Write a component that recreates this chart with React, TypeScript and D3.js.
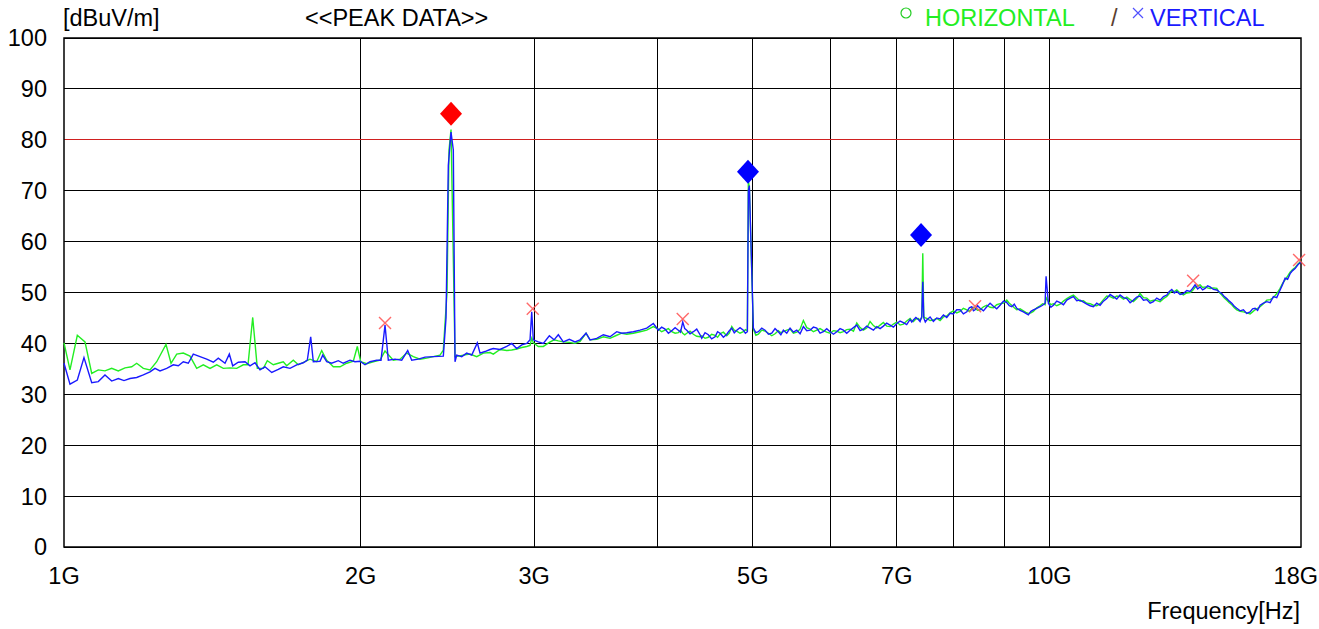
import React, { useEffect, useRef } from 'react';
import * as d3 from 'd3';

// frequency [GHz], level [dBuV/m]
const horizontal: [number, number][] = [
  [1.0, 40.1], [1.0141, 34.8], [1.0316, 41.6], [1.0503, 40.3], [1.0669, 34.1], [1.0834, 34.8], [1.1005, 34.6],
  [1.1179, 35.1], [1.1353, 34.6], [1.1532, 35.2], [1.1714, 35.4], [1.1851, 36.1], [1.2036, 35.1], [1.2226, 34.8],
  [1.2419, 36.4], [1.2691, 39.8], [1.2841, 36.1], [1.3013, 37.9], [1.3215, 38.1], [1.3423, 37.5], [1.3635, 35.1],
  [1.3847, 35.8], [1.4066, 35.1], [1.4288, 35.8], [1.451, 35.1], [1.4739, 35.2], [1.4971, 35.1], [1.5204, 35.8],
  [1.5372, 35.8], [1.5542, 45.1], [1.571, 35.1], [1.5932, 35.1], [1.6081, 36.6], [1.6308, 35.8], [1.6499, 36.1],
  [1.6693, 36.4], [1.6826, 35.6], [1.7088, 36.7], [1.7289, 35.8], [1.7562, 36.4], [1.7768, 36.9], [1.8048, 36.4],
  [1.826, 38.6], [1.8475, 36.7], [1.8762, 35.4], [1.9058, 35.4], [1.9359, 36.1], [1.966, 36.5], [1.9845, 39.4],
  [2.0003, 36.4], [2.0286, 36.0], [2.0601, 36.4], [2.0926, 36.7], [2.1172, 38.5], [2.1586, 36.7], [2.1927, 36.9],
  [2.2273, 38.1], [2.2619, 37.4], [2.2976, 36.9], [2.3339, 37.1], [2.3701, 37.4], [2.4075, 37.7], [2.4262, 38.7],
  [2.4472, 50.0], [2.4587, 78.0], [2.4702, 82.0], [2.4818, 60.0], [2.4934, 37.4], [2.5422, 37.7], [2.5824, 37.9],
  [2.6231, 37.4], [2.6639, 38.1], [2.7059, 38.2], [2.7269, 37.9], [2.7699, 38.8], [2.8136, 38.6], [2.8467, 38.7],
  [2.8801, 38.9], [2.914, 39.2], [2.9482, 39.4], [2.9711, 39.6], [2.9829, 41.0], [2.9941, 40.1], [3.0293, 39.4],
  [3.0649, 39.4], [3.1082, 40.2], [3.1425, 40.7], [3.1742, 40.5], [3.2115, 40.3], [3.2568, 40.2], [3.3005, 40.0],
  [3.3393, 40.4], [3.3865, 42.0], [3.4183, 40.7], [3.4722, 40.8], [3.5262, 41.3], [3.5818, 41.0], [3.6383, 41.6],
  [3.6811, 42.0], [3.7243, 41.8], [3.7822, 42.0], [3.8419, 42.3], [3.9025, 42.6], [3.9632, 43.3],
  [4.0098, 42.8], [4.041, 42.3], [4.0731, 42.6], [4.105, 42.9], [4.1374, 42.3], [4.17, 42.0], [4.2017, 42.1],
  [4.223, 42.6], [4.2451, 42.0], [4.265, 41.7], [4.285, 42.0], [4.318, 42.4], [4.3516, 41.8], [4.386, 41.4],
  [4.4203, 41.3], [4.4379, 41.5], [4.472, 41.0], [4.5069, 41.2], [4.542, 41.8], [4.578, 41.6], [4.605, 41.2],
  [4.6318, 41.9], [4.668, 42.2], [4.7049, 41.5], [4.733, 42.0], [4.7602, 43.3], [4.788, 42.6], [4.8161, 42.4],
  [4.853, 42.0], [4.891, 42.3], [4.914, 42.7], [4.937, 42.5], [4.9485, 72.0], [4.9601, 70.5], [5.0067, 42.8],
  [5.036, 41.6], [5.0656, 41.8], [5.106, 42.6], [5.1455, 42.4], [5.186, 42.0], [5.2267, 41.5], [5.267, 41.9],
  [5.3079, 42.5], [5.339, 42.1], [5.3703, 42.3], [5.413, 42.6], [5.455, 42.8], [5.498, 42.0], [5.5411, 42.2],
  [5.584, 42.8], [5.6272, 44.5], [5.672, 43.1], [5.716, 42.8], [5.761, 42.3], [5.8062, 42.6], [5.851, 42.9],
  [5.8964, 42.5], [5.943, 42.2], [5.9895, 42.0], [6.037, 42.5], [6.084, 42.4], [6.131, 42.1], [6.1785, 42.3],
  [6.227, 42.7], [6.276, 42.8], [6.326, 42.4], [6.375, 44.0], [6.425, 43.1], [6.4741, 42.6], [6.525, 43.0],
  [6.5763, 44.3], [6.628, 43.5], [6.68, 43.0], [6.732, 43.6], [6.7838, 44.1], [6.837, 43.4], [6.8909, 43.3],
  [6.945, 43.8], [6.9996, 44.2], [7.054, 43.6], [7.1084, 43.8], [7.164, 44.4], [7.2206, 44.9], [7.249, 44.5],
  [7.2765, 44.3], [7.319, 44.8], [7.362, 44.9], [7.391, 44.6], [7.4207, 45.0], [7.4381, 57.7], [7.4555, 45.2],
  [7.482, 45.0], [7.5079, 44.9], [7.566, 44.5], [7.6245, 44.6], [7.685, 44.9], [7.7448, 44.5], [7.806, 45.2],
  [7.867, 45.4], [7.928, 46.0], [7.9893, 46.4], [8.052, 46.0], [8.1154, 46.3], [8.179, 46.9], [8.2435, 46.6],
  [8.292, 46.3], [8.3403, 46.8], [8.373, 47.1], [8.4049, 46.9], [8.454, 46.5], [8.5037, 46.6], [8.571, 47.2],
  [8.6379, 47.5], [8.705, 47.1], [8.7721, 47.0], [8.841, 47.6], [8.9106, 47.8], [8.981, 47.9], [9.0511, 48.5],
  [9.104, 47.9], [9.1575, 47.5], [9.211, 47.0], [9.2651, 46.6], [9.337, 46.8], [9.4091, 46.4], [9.464, 46.1],
  [9.5197, 45.9], [9.576, 46.0], [9.6316, 46.3], [9.708, 47.0], [9.7836, 47.4], [9.841, 47.8], [9.8986, 47.6],
  [9.9218, 49.0], [9.9752, 48.2], [10.034, 47.6], [10.0926, 47.8], [10.172, 47.4], [10.2518, 47.7], [10.333, 48.3],
  [10.4136, 48.8], [10.495, 49.2], [10.5754, 49.5], [10.659, 48.9], [10.7423, 48.3], [10.827, 48.4], [10.9118, 47.9],
  [10.997, 47.8], [11.0813, 47.5], [11.169, 47.4], [11.2562, 47.8], [11.345, 48.6], [11.4338, 49.3], [11.523, 49.2],
  [11.6114, 48.9], [11.703, 49.3], [11.7947, 49.2], [11.888, 48.7], [11.9808, 49.1], [12.074, 48.6], [12.167, 48.2],
  [12.263, 48.8], [12.359, 49.8], [12.457, 49.0], [12.554, 48.9], [12.652, 48.3], [12.7491, 48.5], [12.85, 48.4],
  [12.9503, 48.2], [13.053, 48.8], [13.1547, 49.2], [13.232, 49.8], [13.3093, 50.3], [13.388, 50.2], [13.4657, 50.5],
  [13.57, 49.9], [13.675, 49.5], [13.783, 49.9], [13.8908, 50.0], [13.972, 50.4], [14.054, 51.0], [14.137, 51.3],
  [14.2192, 51.5], [14.303, 51.0], [14.3863, 51.1], [14.471, 50.9], [14.5554, 50.8], [14.67, 50.9], [14.7851, 50.8],
  [14.872, 50.0], [14.9588, 49.5], [15.047, 48.9], [15.1347, 48.5], [15.224, 48.0], [15.3125, 47.6], [15.403, 47.0],
  [15.4925, 46.6], [15.613, 46.3], [15.7333, 46.2], [15.857, 46.0], [15.9815, 45.8], [16.075, 46.2], [16.1693, 46.6],
  [16.264, 46.9], [16.3594, 47.2], [16.488, 47.8], [16.6175, 48.5], [16.747, 48.6], [16.8758, 49.0], [17.009, 49.8],
  [17.1421, 50.8], [17.243, 51.8], [17.3435, 52.5], [17.445, 53.2], [17.5474, 54.0], [17.65, 54.5], [17.7536, 54.9],
  [17.877, 55.6], [18.0, 56.2],
];

const vertical: [number, number][] = [
  [1.0, 36.1], [1.0141, 32.0], [1.0316, 32.8], [1.0478, 37.2], [1.0669, 32.3], [1.0834, 32.5], [1.1005, 33.8],
  [1.1179, 32.6], [1.1353, 33.1], [1.1505, 32.7], [1.1667, 33.1], [1.1851, 33.3], [1.2036, 33.8], [1.2226, 34.4],
  [1.2369, 35.1], [1.2515, 34.6], [1.2712, 35.1], [1.291, 35.8], [1.3062, 35.6], [1.3215, 36.4], [1.337, 36.1],
  [1.3527, 37.9], [1.3741, 37.4], [1.3958, 36.9], [1.4175, 36.3], [1.4341, 37.1], [1.4568, 36.1], [1.4715, 37.9],
  [1.4832, 35.6], [1.5027, 36.3], [1.5264, 36.4], [1.5444, 35.6], [1.5626, 36.2], [1.5809, 34.8], [1.5995, 35.4],
  [1.6248, 34.3], [1.6499, 34.9], [1.6693, 35.4], [1.6957, 35.1], [1.7224, 35.8], [1.7492, 36.2], [1.7657, 36.7],
  [1.7797, 41.3], [1.7906, 36.4], [1.8189, 36.5], [1.8304, 37.7], [1.8475, 36.4], [1.8692, 36.1], [1.8982, 36.6],
  [1.9205, 36.1], [1.9508, 36.7], [1.9738, 36.4], [1.997, 36.5], [2.0205, 35.8], [2.0442, 36.4], [2.0765, 36.7],
  [2.0975, 36.7], [2.1172, 43.6], [2.1336, 36.7], [2.1672, 36.9], [2.2014, 36.7], [2.2325, 38.6], [2.2535, 36.7],
  [2.2884, 36.9], [2.3246, 37.3], [2.3701, 37.4], [2.4262, 37.5], [2.4415, 45.0], [2.4547, 75.0], [2.4702, 81.5],
  [2.4835, 78.0], [2.4934, 36.4], [2.5033, 37.7], [2.5327, 37.4], [2.5626, 38.1], [2.5927, 37.7], [2.6268, 40.1],
  [2.6434, 38.1], [2.6745, 38.4], [2.7059, 38.8], [2.7269, 39.0], [2.7699, 38.8], [2.8136, 39.4], [2.8467, 40.0],
  [2.8801, 39.0], [2.914, 39.7], [2.9482, 40.0], [2.9711, 40.7], [2.9829, 46.2], [2.9941, 40.7], [3.0293, 40.3],
  [3.0649, 40.0], [3.1082, 41.5], [3.1425, 40.7], [3.1742, 41.7], [3.2115, 40.3], [3.2568, 40.8], [3.3005, 40.3],
  [3.3393, 40.7], [3.3865, 42.0], [3.4183, 40.7], [3.4722, 41.0], [3.5262, 41.7], [3.5818, 41.3], [3.6383, 42.3],
  [3.6811, 42.0], [3.7243, 42.1], [3.7822, 42.3], [3.8419, 42.6], [3.9025, 43.0], [3.9632, 43.9],
  [4.0098, 42.6], [4.041, 43.2], [4.0731, 42.8], [4.105, 42.0], [4.1374, 42.5], [4.17, 43.1], [4.2017, 42.6],
  [4.223, 42.2], [4.2451, 44.2], [4.265, 42.9], [4.285, 42.6], [4.318, 41.9], [4.3516, 42.3], [4.386, 42.8],
  [4.4203, 41.7], [4.4379, 41.0], [4.472, 42.1], [4.5069, 41.7], [4.542, 40.9], [4.578, 41.3], [4.605, 42.3],
  [4.6318, 42.0], [4.668, 41.2], [4.7049, 41.8], [4.733, 42.5], [4.7602, 43.0], [4.788, 42.1], [4.8161, 42.6],
  [4.853, 43.1], [4.891, 42.6], [4.914, 42.0], [4.937, 42.3], [4.9485, 70.0], [4.9601, 71.0], [5.0067, 43.0],
  [5.036, 42.1], [5.0656, 42.3], [5.106, 43.0], [5.1455, 42.6], [5.186, 41.8], [5.2267, 42.0], [5.267, 42.9],
  [5.3079, 42.3], [5.339, 41.7], [5.3703, 42.6], [5.413, 42.0], [5.455, 43.0], [5.498, 42.2], [5.5411, 42.6],
  [5.584, 41.9], [5.6272, 43.3], [5.672, 42.5], [5.716, 42.6], [5.761, 43.2], [5.8062, 43.0], [5.851, 42.0],
  [5.8964, 42.3], [5.943, 42.9], [5.9895, 42.3], [6.037, 41.8], [6.084, 42.3], [6.131, 42.9], [6.1785, 42.6],
  [6.227, 42.0], [6.276, 42.6], [6.326, 43.1], [6.375, 43.6], [6.425, 42.5], [6.4741, 42.8], [6.525, 43.4],
  [6.5763, 43.0], [6.628, 42.6], [6.68, 43.3], [6.732, 42.9], [6.7838, 43.4], [6.837, 44.0], [6.8909, 43.6],
  [6.945, 43.2], [6.9996, 43.9], [7.054, 44.4], [7.1084, 44.1], [7.164, 43.7], [7.2206, 44.7], [7.249, 44.2],
  [7.2765, 44.6], [7.319, 45.1], [7.362, 44.7], [7.391, 44.3], [7.4207, 45.3], [7.4381, 52.1], [7.4555, 45.0],
  [7.482, 44.2], [7.5079, 44.6], [7.566, 45.2], [7.6245, 44.3], [7.685, 45.0], [7.7448, 44.8], [7.806, 45.6],
  [7.867, 45.1], [7.928, 45.9], [7.9893, 45.8], [8.052, 46.6], [8.1154, 46.6], [8.179, 45.8], [8.2435, 46.2],
  [8.292, 47.0], [8.3403, 47.2], [8.373, 46.4], [8.4049, 46.6], [8.454, 47.4], [8.5037, 46.9], [8.571, 46.4],
  [8.6379, 47.2], [8.705, 47.9], [8.7721, 47.3], [8.841, 46.8], [8.9106, 47.5], [8.981, 48.3], [9.0511, 48.0],
  [9.104, 47.4], [9.1575, 47.2], [9.211, 47.7], [9.2651, 46.9], [9.337, 46.5], [9.4091, 46.2], [9.464, 45.9],
  [9.5197, 45.6], [9.576, 46.3], [9.6316, 46.6], [9.708, 46.9], [9.7836, 47.2], [9.841, 47.5], [9.8986, 47.9],
  [9.9218, 53.2], [9.9752, 47.9], [10.034, 47.1], [10.0926, 47.5], [10.172, 48.3], [10.2518, 48.0], [10.333, 47.6],
  [10.4136, 48.5], [10.495, 48.9], [10.5754, 49.2], [10.659, 48.4], [10.7423, 48.5], [10.827, 48.1], [10.9118, 47.7],
  [10.997, 47.4], [11.0813, 47.2], [11.169, 47.9], [11.2562, 47.5], [11.345, 48.3], [11.4338, 48.8], [11.523, 49.6],
  [11.6114, 49.2], [11.703, 48.7], [11.7947, 49.5], [11.888, 49.0], [11.9808, 48.8], [12.074, 48.0], [12.167, 48.5],
  [12.263, 49.1], [12.359, 49.3], [12.457, 48.5], [12.554, 48.6], [12.652, 47.9], [12.7491, 48.2], [12.85, 48.9],
  [12.9503, 48.5], [13.053, 49.2], [13.1547, 49.5], [13.232, 50.2], [13.3093, 50.6], [13.388, 49.9], [13.4657, 50.2],
  [13.57, 49.6], [13.675, 49.8], [13.783, 50.4], [13.8908, 50.2], [13.972, 50.8], [14.054, 51.5], [14.137, 50.7],
  [14.2192, 51.1], [14.303, 50.5], [14.3863, 50.8], [14.471, 51.3], [14.5554, 51.1], [14.67, 50.6], [14.7851, 50.5],
  [14.872, 50.1], [14.9588, 49.8], [15.047, 49.2], [15.1347, 48.8], [15.224, 48.3], [15.3125, 47.9], [15.403, 47.3],
  [15.4925, 46.9], [15.613, 46.4], [15.7333, 46.6], [15.857, 45.9], [15.9815, 46.2], [16.075, 46.8], [16.1693, 46.9],
  [16.264, 46.5], [16.3594, 47.5], [16.488, 47.9], [16.6175, 48.2], [16.747, 48.0], [16.8758, 49.2], [17.009, 49.0],
  [17.1421, 50.5], [17.243, 51.6], [17.3435, 52.8], [17.445, 52.6], [17.5474, 53.7], [17.65, 54.3], [17.7536, 54.7],
  [17.877, 55.5], [18.0, 56.0],
];

// peak markers (x) and final-measurement markers (diamonds)
const peakMarks: [number, number][] = [
  [2.1172, 44.0], [2.99, 46.8], [4.245, 44.8], [8.405, 47.3], [13.99, 52.3], [17.92, 56.4],
];
const diamondMarks: [number, number, string][] = [
  [2.4702, 85.1, '#ff0000'], [4.944, 73.7, '#0000ff'], [7.408, 61.3, '#0000ff'],
];

const xTicks = [1, 2, 3, 5, 7, 10, 18];
const xGrid = [2, 3, 4, 5, 6, 7, 8, 9, 10];
const yTicks = [0, 10, 20, 30, 40, 50, 60, 70, 80, 90, 100];
const limitLevel = 80;

const FONT = '"Liberation Sans", Arial, sans-serif';
const FS = 23.5;

const PeakChart = () => {
  const svgRef = useRef<SVGSVGElement>(null);

  useEffect(() => {
    const svg = d3.select(svgRef.current);
    svg.selectAll('*').remove();

    const width = 1319;
    const height = 629;
    const margin = { top: 38, right: 18, bottom: 82, left: 64 };

    const x = d3.scaleLog().domain([1, 18]).range([margin.left, width - margin.right]);
    const y = d3.scaleLinear().domain([0, 100]).range([height - margin.bottom, margin.top]);

    svg.append('rect').attr('width', width).attr('height', height).attr('fill', '#fff');

    // grid
    const grid = svg.append('g').attr('shape-rendering', 'crispEdges');
    grid.selectAll('.hgrid')
      .data(yTicks)
      .enter()
      .append('line')
      .attr('x1', margin.left)
      .attr('x2', width - margin.right)
      .attr('y1', (d) => y(d))
      .attr('y2', (d) => y(d))
      .attr('stroke', '#000')
      .attr('stroke-width', 1);
    grid.selectAll('.vgrid')
      .data(xGrid)
      .enter()
      .append('line')
      .attr('x1', (d) => x(d))
      .attr('x2', (d) => x(d))
      .attr('y1', margin.top)
      .attr('y2', height - margin.bottom)
      .attr('stroke', '#000')
      .attr('stroke-width', 1);

    // limit line
    grid.append('line')
      .attr('x1', margin.left)
      .attr('x2', width - margin.right)
      .attr('y1', y(limitLevel))
      .attr('y2', y(limitLevel))
      .attr('stroke', '#d02020')
      .attr('stroke-width', 1);

    // frame
    svg.append('rect')
      .attr('x', margin.left)
      .attr('y', margin.top)
      .attr('width', width - margin.left - margin.right)
      .attr('height', height - margin.top - margin.bottom)
      .attr('fill', 'none')
      .attr('stroke', '#000')
      .attr('stroke-width', 1.5);

    // traces
    const line = d3.line<[number, number]>()
      .x((d) => x(d[0]))
      .y((d) => y(d[1]));

    svg.append('path')
      .datum(horizontal)
      .attr('d', line)
      .attr('fill', 'none')
      .attr('stroke', '#22ee22')
      .attr('stroke-width', 1.4);
    svg.append('path')
      .datum(vertical)
      .attr('d', line)
      .attr('fill', 'none')
      .attr('stroke', '#1a1aff')
      .attr('stroke-width', 1.4);

    // peak x markers
    const s = 6;
    peakMarks.forEach(([f, v]) => {
      const cx = x(f);
      const cy = y(v);
      svg.append('path')
        .attr('d', `M${cx - s},${cy - s}L${cx + s},${cy + s}M${cx - s},${cy + s}L${cx + s},${cy - s}`)
        .attr('stroke', '#ff5050')
        .attr('stroke-opacity', 0.85)
        .attr('stroke-width', 1.4)
        .attr('fill', 'none');
    });

    // diamonds
    diamondMarks.forEach(([f, v, c]) => {
      const cx = x(f);
      const cy = y(v);
      svg.append('path')
        .attr('d', `M${cx},${cy - 12}L${cx + 11},${cy}L${cx},${cy + 12}L${cx - 11},${cy}Z`)
        .attr('fill', c);
    });

    // y labels
    svg.append('g')
      .selectAll('text')
      .data(yTicks)
      .enter()
      .append('text')
      .attr('x', 47)
      .attr('y', (d) => y(d))
      .attr('dy', '0.36em')
      .attr('text-anchor', 'end')
      .attr('font-family', FONT)
      .attr('font-size', FS)
      .text((d) => d);

    // x labels (last one kept inside the page)
    svg.append('g')
      .selectAll('text')
      .data(xTicks)
      .enter()
      .append('text')
      .attr('x', (d, i) => (i === xTicks.length - 1 ? width - 1 : x(d)))
      .attr('y', 584)
      .attr('text-anchor', (d, i) => (i === xTicks.length - 1 ? 'end' : 'middle'))
      .attr('font-family', FONT)
      .attr('font-size', FS)
      .text((d) => `${d}G`);

    const label = (tx: number, ty: number, str: string, color = '#000', anchor = 'start') =>
      svg.append('text')
        .attr('x', tx)
        .attr('y', ty)
        .attr('text-anchor', anchor)
        .attr('font-family', FONT)
        .attr('font-size', FS)
        .attr('fill', color)
        .text(str);

    label(63, 26, '[dBuV/m]');
    label(305, 26, '<<PEAK DATA>>');
    label(1300, 619, 'Frequency[Hz]', '#000', 'end');

    // legend
    svg.append('circle')
      .attr('cx', 906)
      .attr('cy', 13)
      .attr('r', 5)
      .attr('fill', 'none')
      .attr('stroke', '#22cc22')
      .attr('stroke-width', 1.2);
    label(925, 26, 'HORIZONTAL', '#22ee22');
    label(1111, 26, '/', '#5a4030');
    svg.append('path')
      .attr('d', 'M1133,8L1143,18M1133,18L1143,8')
      .attr('stroke', '#5050ff')
      .attr('stroke-width', 1.2);
    label(1150, 26, 'VERTICAL', '#1a1aff');
  }, []);

  return (
    <svg
      ref={svgRef}
      width={1319}
      height={629}
      style={{ position: 'absolute', left: 0, top: 0 }}
    />
  );
};

export default function App() {
  return <PeakChart />;
}
